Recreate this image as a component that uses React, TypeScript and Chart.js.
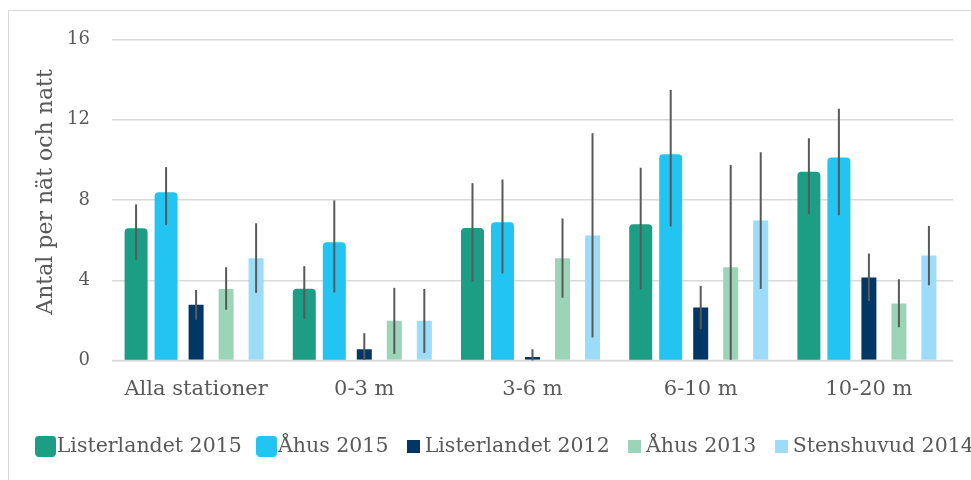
import React, { useEffect, useRef } from "react";
import { Chart, registerables } from "chart.js";

Chart.register(...registerables);

// Catch per net and night, by depth interval
const categories = ["Alla stationer", "0-3 m", "3-6 m", "6-10 m", "10-20 m"];
const seriesNames = ["Listerlandet 2015", "Åhus 2015", "Listerlandet 2012", "Åhus 2013", "Stenshuvud 2014"];

const listerlandet2015 = [6.64, 3.62, 6.66, 6.84, 9.46];
const listerlandet2015Low = [5.02, 2.06, 3.94, 3.56, 7.29];
const listerlandet2015High = [7.78, 4.7, 8.84, 9.61, 11.08];

const ahus2015 = [8.44, 5.95, 6.94, 10.33, 10.17];
const ahus2015Low = [6.76, 3.39, 4.34, 6.68, 7.24];
const ahus2015High = [9.64, 7.98, 9.02, 13.49, 12.55];

const listerlandet2012 = [2.78, 0.56, 0.17, 2.64, 4.14];
const listerlandet2012Low = [2.03, 0.03, 0.0, 1.56, 2.96];
const listerlandet2012High = [3.52, 1.36, 0.56, 3.72, 5.33];

const ahus2013 = [3.57, 1.98, 5.1, 4.65, 2.84];
const ahus2013Low = [2.53, 0.33, 3.13, 0.03, 1.66];
const ahus2013High = [4.65, 3.62, 7.08, 9.75, 4.05];

const stenshuvud2014 = [5.1, 1.98, 6.23, 6.98, 5.23];
const stenshuvud2014Low = [3.37, 0.38, 1.15, 3.57, 3.75];
const stenshuvud2014High = [6.84, 3.57, 11.33, 10.38, 6.71];

const yTicks = [0, 4, 8, 12, 16];
const yTitle = "Antal per nät och natt";

const values = [listerlandet2015, ahus2015, listerlandet2012, ahus2013, stenshuvud2014];
const lows = [listerlandet2015Low, ahus2015Low, listerlandet2012Low, ahus2013Low, stenshuvud2014Low];
const highs = [listerlandet2015High, ahus2015High, listerlandet2012High, ahus2013High, stenshuvud2014High];

const colors = ["#1c9e84", "#22c4f2", "#003764", "#9cd4b7", "#9ddcf8"];
const wide = [true, true, false, false, false];

const FONT = "'DejaVu Serif', serif";
const TEXT = "#595959";
const GRID = "#d9d9d9";

const W = 1030;
const H = 490;

function makeMarker(color: string, big: boolean): HTMLCanvasElement {
  const c = document.createElement("canvas");
  const s = big ? 21 : 13;
  c.width = s;
  c.height = s;
  const g = c.getContext("2d")!;
  g.fillStyle = color;
  if (big) {
    g.beginPath();
    (g as any).roundRect(0, 0, s, s, 4);
    g.fill();
  } else {
    g.fillRect(0, 0, s, s);
  }
  return c;
}

// Zero line on top of the bars, then the error whiskers
const errorBars = {
  id: "errorBars",
  afterDatasetsDraw(chart: any) {
    const { ctx, chartArea, scales } = chart;
    const y = scales.y;
    const y0 = y.getPixelForValue(0);
    ctx.save();
    ctx.strokeStyle = GRID;
    ctx.lineWidth = 1.5;
    ctx.beginPath();
    ctx.moveTo(chartArea.left, y0);
    ctx.lineTo(chartArea.right, y0);
    ctx.stroke();
    ctx.strokeStyle = "#595959";
    ctx.lineWidth = 2;
    values.forEach((_, i) => {
      const meta = chart.getDatasetMeta(i);
      meta.data.forEach((bar: any, j: number) => {
        ctx.beginPath();
        ctx.moveTo(bar.x, y.getPixelForValue(lows[i][j]));
        ctx.lineTo(bar.x, y.getPixelForValue(highs[i][j]));
        ctx.stroke();
      });
    });
    ctx.restore();
  },
};

// Rotated y-axis title
const axisTitle = {
  id: "axisTitle",
  afterDraw(chart: any) {
    const { ctx } = chart;
    ctx.save();
    ctx.translate(37, 181);
    ctx.rotate(-Math.PI / 2);
    ctx.font = `22px ${FONT}`;
    ctx.fillStyle = TEXT;
    ctx.textAlign = "center";
    ctx.textBaseline = "middle";
    ctx.fillText(yTitle, 0, 0);
    ctx.restore();
  },
};

export default function App() {
  const ref = useRef<HTMLCanvasElement>(null);

  useEffect(() => {
    const markers = colors.map((c, i) => makeMarker(c, wide[i]));
    const chart = new Chart(ref.current!, {
      type: "bar",
      data: {
        labels: categories,
        datasets: values.map((v, i) => ({
          label: seriesNames[i],
          data: v,
          backgroundColor: colors[i],
          borderColor: wide[i] ? "rgba(255,255,255,0.22)" : "rgba(0,0,0,0)",
          borderWidth: wide[i] ? 1 : 0,
          barPercentage: wide[i] ? 0.833 : 0.5,
          categoryPercentage: 0.892,
          base: wide[i] ? -0.12 : 0,
          borderRadius: wide[i] ? { topLeft: 5, topRight: 5, bottomLeft: 0, bottomRight: 0 } : 0,
          borderSkipped: false,
        })),
      },
      options: {
        responsive: false,
        animation: false,
        layout: { padding: { left: 11.5, right: 0, top: 28.5, bottom: 34.5 } },
        scales: {
          x: {
            grid: { display: false, drawTicks: false },
            border: { display: false },
            ticks: { color: TEXT, font: { family: FONT, size: 21 }, padding: 16.5 },
            afterFit: (s: any) => {
              s.height = 51.5;
            },
          },
          y: {
            min: yTicks[0],
            max: yTicks[yTicks.length - 1],
            afterBuildTicks: (s: any) => {
              s.ticks = yTicks.map((v) => ({ value: v }));
            },
            grid: { color: GRID, lineWidth: 1.5, drawTicks: true, tickLength: 22, tickColor: "rgba(0,0,0,0)" },
            border: { display: false },
            ticks: { color: TEXT, font: { family: FONT, size: 18 }, padding: 0 },
            afterFit: (s: any) => {
              s.width = 91.5;
            },
          },
          yR: {
            type: "linear",
            position: "right",
            display: true,
            grid: { display: false, drawTicks: false },
            border: { display: false },
            ticks: { display: false },
            afterFit: (s: any) => {
              s.width = W - 944;
            },
          },
        },
        plugins: {
          tooltip: { enabled: false },
          legend: {
            position: "bottom",
            align: "start",
            labels: {
              color: TEXT,
              font: { family: FONT, size: 20.5 },
              usePointStyle: true,
              pointStyleWidth: 2,
              padding: 24,
              generateLabels: (c: any) => {
                const items = Chart.defaults.plugins.legend.labels.generateLabels(c);
                return items.map((it: any, i: number) => ({ ...it, pointStyle: markers[i] }));
              },
            },
          },
        },
      },
      plugins: [errorBars, axisTitle],
    } as any);
    return () => chart.destroy();
  }, []);

  return (
    <div style={{ position: "fixed", left: 0, top: 0, width: 971, height: 480, overflow: "hidden", background: "#fff" }}>
      <div style={{ marginLeft: 8, marginTop: 10, width: W, height: H, border: "1px solid #d9d9d9" }}>
        <canvas ref={ref} width={W} height={H} style={{ display: "block" }} />
      </div>
    </div>
  );
}
